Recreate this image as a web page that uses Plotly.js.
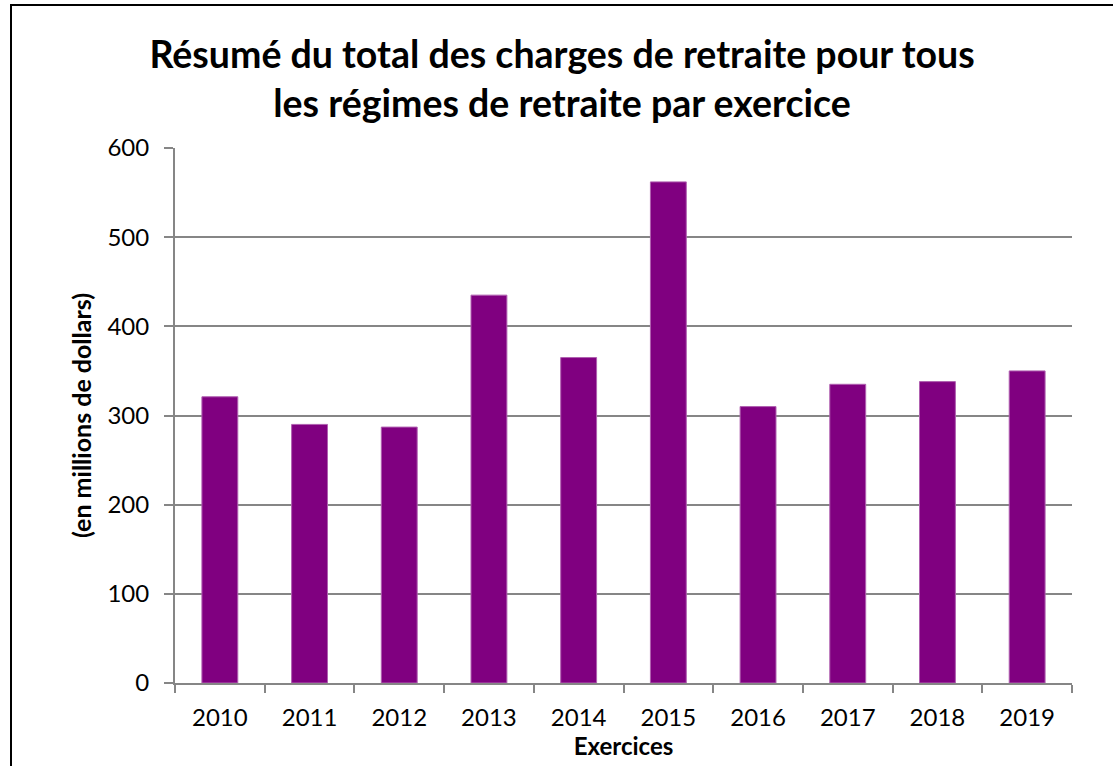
<!DOCTYPE html>
<html>
<head>
<meta charset="utf-8">
<script src="https://cdn.plot.ly/plotly-3.0.1.min.js"></script>
<style>
  html, body { margin: 0; padding: 0; background: #fff; }
  #chart { width: 1113px; height: 766px; }
  #frame { position: absolute; left: 10px; top: 4px; width: 1200px; height: 900px;
           border-left: 2px solid #000; border-top: 2px solid #000; pointer-events: none; }
</style>
</head>
<body>
<div id="chart"></div>
<div id="frame"></div>
<script>
const years = ["2010", "2011", "2012", "2013", "2014", "2015", "2016", "2017", "2018", "2019"];
const charges = [321, 290, 287, 435, 365, 562, 310, 335, 338, 350];
const yTicks = [0, 100, 200, 300, 400, 500, 600];

const FONT = "Lato, 'Open Sans', sans-serif";

Plotly.newPlot("chart", [{
  type: "bar",
  x: years,
  y: charges,
  marker: { color: "#800080", line: { color: "#b060b0", width: 1 } },
  hoverinfo: "x+y"
}], {
  width: 1113,
  height: 766,
  margin: { l: 175, r: 41, t: 148, b: 82.5 },
  paper_bgcolor: "#fff",
  plot_bgcolor: "#fff",
  bargap: 0.6,
  showlegend: false,
  font: { family: FONT, color: "#000", size: 24 },
  title: {
    text: "<b>Résumé du total des charges de retraite pour tous<br>les régimes de retraite par exercice</b>",
    font: { family: FONT, size: 37.5, color: "#000" },
    x: 0.505, xanchor: "center",
    y: 0.911, yanchor: "top"
  },
  xaxis: {
    type: "category",
    tickson: "boundaries",
    ticks: "outside",
    ticklen: 8,
    tickcolor: "#868686",
    tickwidth: 2,
    showline: true,
    linecolor: "#868686",
    linewidth: 2,
    showgrid: false,
    ticklabelstandoff: 12,
    tickfont: { family: FONT, size: 24, color: "#000" },
    title: { text: "<b>Exercices</b>", font: { family: FONT, size: 24, color: "#000" }, standoff: 5 }
  },
  yaxis: {
    range: [0, 600],
    tickvals: yTicks,
    ticktext: yTicks.map(String),
    ticks: "outside",
    ticklen: 9,
    tickcolor: "#868686",
    tickwidth: 2,
    showline: true,
    linecolor: "#868686",
    linewidth: 2,
    showgrid: true,
    gridcolor: "#868686",
    gridwidth: 2,
    zeroline: false,
    ticklabelstandoff: 10,
    tickfont: { family: FONT, size: 24, color: "#000" },
    title: { text: "<b>(en millions de dollars)</b>", font: { family: FONT, size: 25, color: "#000" }, standoff: 9 }
  }
}, { displayModeBar: false, staticPlot: false });
</script>
</body>
</html>
